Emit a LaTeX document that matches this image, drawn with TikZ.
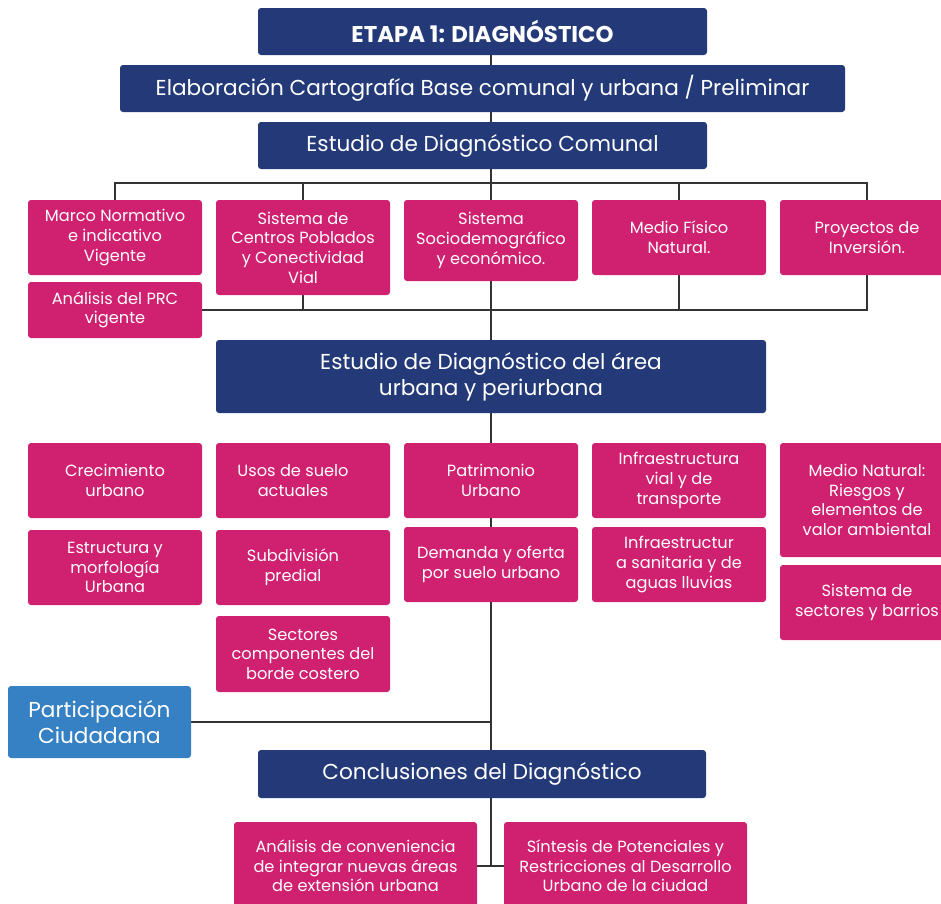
\documentclass[tikz,border=0pt]{standalone}
\usepackage{fontspec}
\setmainfont{Poppins}
\usetikzlibrary{backgrounds}
\definecolor{navy}{RGB}{35,57,120}
\definecolor{pinkbox}{RGB}{208,32,112}
\definecolor{bluebox}{RGB}{53,129,196}
\definecolor{linec}{RGB}{51,51,51}
\begin{document}
\begin{tikzpicture}[x=1pt,y=-1pt,
 box/.style={rounded corners=3pt, text=white, align=center, inner sep=0pt},
 navybox/.style={box, fill=navy, font=\fontsize{21.6}{26}\selectfont},
 pinkb/.style={box, fill=pinkbox, font=\fontsize{16.2}{19.6}\selectfont},
 bluebx/.style={box, fill=bluebox, font=\fontsize{21.6}{26.5}\selectfont},
 conn/.style={draw=linec, line width=1.2pt}]
\useasboundingbox (0,0) rectangle (941,903);
\coordinate (tx) at (491,0);
% navy boxes
\node[navybox, minimum width=449pt, minimum height=47pt, font=\fontsize{22.8}{26}\selectfont\bfseries] (etapa) at (482.5,31.5) {ETAPA 1: DIAGNÓSTICO};
\node[navybox, minimum width=725pt, minimum height=47pt] (elab) at (482.5,88.5) {Elaboración Cartografía Base comunal y urbana / Preliminar};
\node[navybox, minimum width=449pt, minimum height=47pt] (comunal) at (482.5,145.5) {Estudio de Diagnóstico Comunal};
% row 1
\node[pinkb, minimum width=174pt, minimum height=75pt] (marco) at (115,237.5) {Marco Normativo\\e indicativo\\Vigente};
\node[pinkb, minimum width=174pt, minimum height=95pt] (centros) at (303,247.5) {Sistema de\\Centros Poblados\\y Conectividad\\Vial};
\node[pinkb, minimum width=174pt, minimum height=81pt] (socio) at (491,240.5) {Sistema\\Sociodemográfico\\y económico.};
\node[pinkb, minimum width=174pt, minimum height=75pt] (medio) at (679,237.5) {Medio Físico\\Natural.};
\node[pinkb, minimum width=174pt, minimum height=75pt] (proy) at (867,237.5) {Proyectos de\\Inversión.};
\node[pinkb, minimum width=174pt, minimum height=56pt] (prc) at (115,310) {Análisis del PRC\\vigente};
% urbano
\node[navybox, minimum width=550pt, minimum height=73pt] (urbano) at (491,376.5) {Estudio de Diagnóstico del área\\urbana y periurbana};
% row 2
\node[pinkb, minimum width=174pt, minimum height=75pt] (crec) at (115,480.5) {Crecimiento\\urbano};
\node[pinkb, minimum width=174pt, minimum height=75pt] (usos) at (303,480.5) {Usos de suelo\hspace*{20pt}\\actuales\hspace*{20pt}};
\node[pinkb, minimum width=174pt, minimum height=75pt] (patri) at (491,480.5) {Patrimonio\\Urbano};
\node[pinkb, minimum width=174pt, minimum height=75pt] (infv) at (679,480.5) {Infraestructura\\vial y de\\transporte};
\node[pinkb, minimum width=174pt, minimum height=114pt] (mnat) at (867,500) {Medio Natural:\\Riesgos y\\elementos de\\valor ambiental};
% row 3
\node[pinkb, minimum width=174pt, minimum height=75pt] (estr) at (115,567.5) {Estructura y\\morfología\\Urbana};
\node[pinkb, minimum width=174pt, minimum height=75pt] (subd) at (303,567.5) {Subdivisión\hspace*{20pt}\\predial\hspace*{20pt}};
\node[pinkb, minimum width=174pt, minimum height=75pt] (dem) at (491,564.5) {Demanda y oferta\\por suelo urbano};
\node[pinkb, minimum width=174pt, minimum height=75pt] (infs) at (679,564.5) {Infraestructur\\a sanitaria y de\\aguas lluvias};
\node[pinkb, minimum width=174pt, minimum height=75pt] (sect) at (867,602.5) {Sistema de\\sectores y barrios};
\node[pinkb, minimum width=174pt, minimum height=76pt] (sectc) at (303,654) {Sectores\\componentes del\\borde costero};
% participacion
\node[bluebx, minimum width=183pt, minimum height=72pt] (part) at (99.5,722) {Participación\\Ciudadana};
\node[navybox, minimum width=448pt, minimum height=48pt] (concl) at (482,774) {Conclusiones del Diagnóstico};
\node[pinkb, minimum width=243pt, minimum height=88pt] (anal) at (355.5,866) {Análisis de conveniencia\\de integrar nuevas áreas\\de extensión urbana};
\node[pinkb, minimum width=243pt, minimum height=88pt] (sint) at (625.5,866) {Síntesis de Potenciales y\\Restricciones al Desarrollo\\Urbano de la ciudad};
\coordinate (bar) at (491,183);
\begin{pgfonlayer}{background}
\draw[conn] (etapa.south -| tx) -- (elab.north -| tx);
\draw[conn] (elab.south -| tx) -- (comunal.north -| tx);
\draw[conn] (comunal.south -| tx) -- (urbano.north -| tx);
\draw[conn] (marco.north) |- (bar) -| (proy.north);
\draw[conn] (centros.north) -- (centros.north |- bar);
\draw[conn] (medio.north) -- (medio.north |- bar);
\draw[conn] (prc.east) -| (proy.south);
\draw[conn] (centros.south) -- (centros.south |- prc.east);
\draw[conn] (medio.south) -- (medio.south |- prc.east);
\draw[conn] (urbano.south -| tx) -- (concl.north -| tx);
\draw[conn] (part.east) -- (part.east -| tx);
\draw[conn] (concl.south -| tx) -- (anal.east -| tx);
\draw[conn] (anal.east) -- (sint.west);
\end{pgfonlayer}
\end{tikzpicture}
\end{document}
